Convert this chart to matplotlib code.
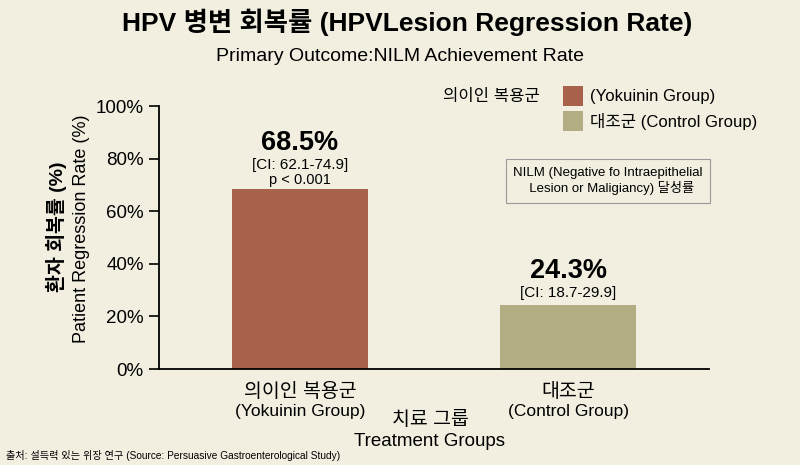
import matplotlib
matplotlib.use("Agg")
import matplotlib.pyplot as plt
from matplotlib.patches import Rectangle

plt.rcParams["font.family"] = ["Liberation Sans", "Noto Sans CJK KR"]

# data
groups_ko = ["의이인 복용군", "대조군"]
groups_en = ["(Yokuinin Group)", "(Control Group)"]
rates = [68.5, 24.3]
ci_labels = ["[CI: 62.1-74.9]", "[CI: 18.7-29.9]"]
p_labels = ["p < 0.001", ""]
yticks = [0, 20, 40, 60, 80, 100]

BG = "#F2EFE1"
COLORS = ["#A8614A", "#B3AD84"]

fig = plt.figure(figsize=(8, 4.65), dpi=100, facecolor=BG)
ax = fig.add_axes([159 / 800, 1 - 369 / 465, 550 / 800, 263 / 465])
ax.set_facecolor(BG)

x = [0, 1]
ax.bar(x, rates, width=0.51, color=COLORS, zorder=2)
ax.set_xlim(-0.526, 1.526)
ax.set_ylim(0, 100)
ax.set_yticks(yticks)
ax.set_yticklabels([f"{v}%" for v in yticks], fontsize=13.5)
ax.tick_params(axis="y", length=7, width=1.2, pad=4)
ax.set_xticks([])
for s in ["top", "right"]:
    ax.spines[s].set_visible(False)
for s in ["left", "bottom"]:
    ax.spines[s].set_linewidth(1.3)

# value labels above bars (offsets in points from the bar top)
for xi, r, ci, p in zip(x, rates, ci_labels, p_labels):
    if p:
        ax.annotate(p, (xi, r), xytext=(0, 1.5), textcoords="offset points",
                    ha="center", va="bottom", fontsize=10.5)
        ci_off, val_off = 12, 24
    else:
        ci_off, val_off = 3.5, 15
    ax.annotate(ci, (xi, r), xytext=(0, ci_off), textcoords="offset points",
                ha="center", va="bottom", fontsize=11)
    ax.annotate(f"{r}%", (xi, r), xytext=(0, val_off),
                textcoords="offset points", ha="center", va="bottom",
                fontsize=19.5, fontweight="bold")

# category labels under the axis
for xi, ko, en in zip(x, groups_ko, groups_en):
    ax.annotate(ko, (xi, 0), xytext=(0, -10), textcoords="offset points",
                ha="center", va="top", fontsize=14, fontweight="medium",
                annotation_clip=False)
    ax.annotate(en, (xi, 0), xytext=(0, -25), textcoords="offset points",
                ha="center", va="top", fontsize=12.5, annotation_clip=False)

# titles
fig.text(407 / 800, 1 - 22 / 465, "HPV 병변 회복률 (HPVLesion Regression Rate)",
         ha="center", va="center", fontsize=19, fontweight="bold")
fig.text(0.5, 1 - 56 / 465, "Primary Outcome:NILM Achievement Rate",
         ha="center", va="center", fontsize=14)

# y axis labels
fig.text(56 / 800, 1 - 227 / 465, "환자 회복률 (%)", rotation=90,
         ha="center", va="center", fontsize=14, fontweight="bold")
fig.text(81 / 800, 1 - 229 / 465, "Patient Regression Rate (%)", rotation=90,
         ha="center", va="center", fontsize=13)

# x axis title
fig.text(430 / 800, 1 - 420 / 465, "치료 그룹", ha="center", va="center",
         fontsize=14, fontweight="medium")
fig.text(430 / 800, 1 - 441 / 465, "Treatment Groups", ha="center",
         va="center", fontsize=13.5)

# legend
fig.text(540 / 800, 1 - 96 / 465, "의이인 복용군", ha="right", va="center",
         fontsize=12, fontweight="medium")
for i, (c, lab) in enumerate(zip(COLORS, ["(Yokuinin Group)",
                                          "대조군 (Control Group)"])):
    yc = 96 + i * 25
    fig.patches.append(Rectangle((563 / 800, 1 - (yc + 10) / 465), 20 / 800,
                                 20 / 465, transform=fig.transFigure,
                                 facecolor=c, edgecolor="none"))
    fig.text(590 / 800, 1 - yc / 465, lab, ha="left", va="center",
             fontsize=12)

# note box
fig.text(608 / 800, 1 - 181 / 465,
         "NILM (Negative fo Intraepithelial\n  Lesion or Maligiancy) 달성률",
         ha="center", va="center", fontsize=9.5, linespacing=1.25,
         bbox=dict(boxstyle="square,pad=0.55", facecolor=BG,
                   edgecolor="#999999", linewidth=0.8))

# source
fig.text(6 / 800, 1 - 455 / 465,
         "출처: 설득력 있는 위장 연구 (Source: Persuasive Gastroenterological Study)",
         ha="left", va="center", fontsize=7.3)

fig.savefig("out.png", dpi=100, facecolor=BG)
